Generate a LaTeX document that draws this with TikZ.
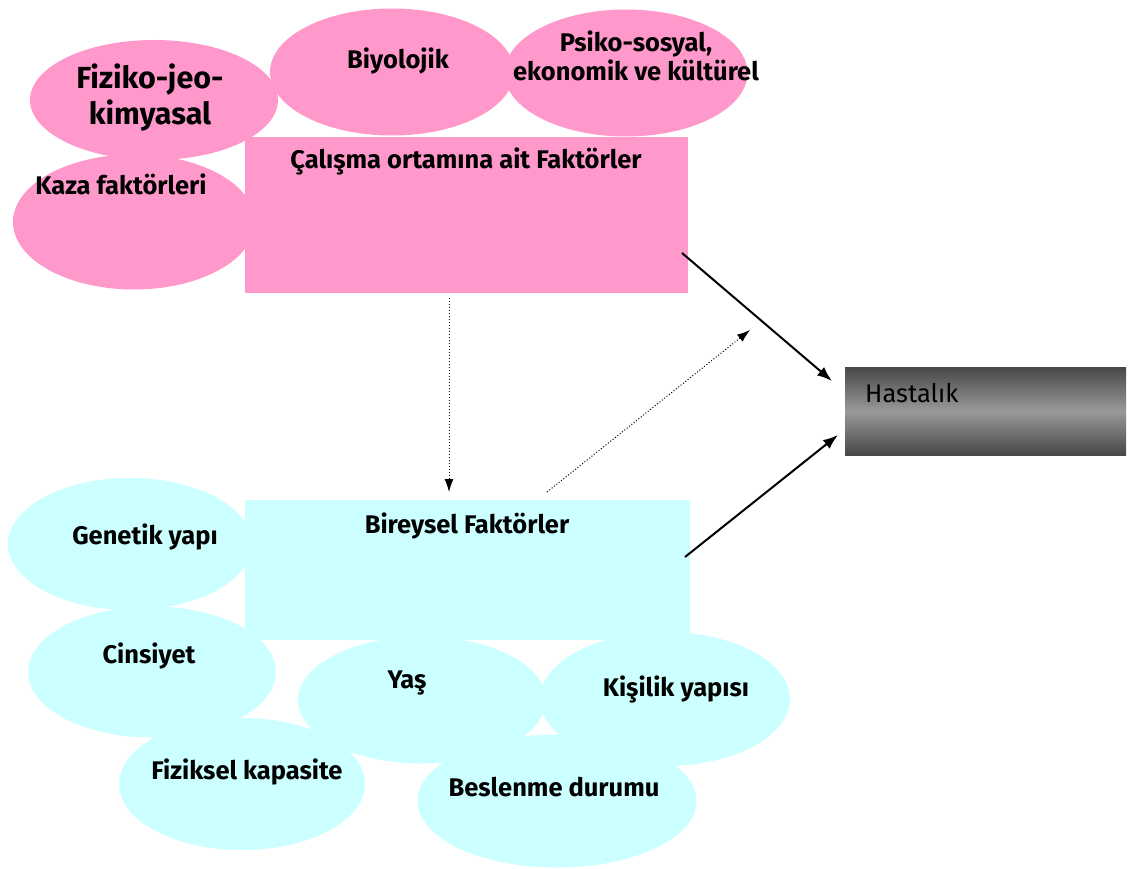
\documentclass[tikz,border=0pt]{standalone}
\usepackage{fontspec}
\setmainfont{Fira Sans}
\usetikzlibrary{shapes.geometric, arrows.meta}

\definecolor{pembe}{HTML}{FF99CC}
\definecolor{acikmavi}{HTML}{CCFFFF}

\begin{document}
\begin{tikzpicture}[x = 1pt, y = -1pt, > = {Latex[length=15pt, width=11pt]},
	pinkblob/.style = {ellipse, fill = pembe, inner sep = 0pt},
	cyanblob/.style = {ellipse, fill = acikmavi, inner sep = 0pt},
	lbl/.style = {font = \fontsize{25.5}{30}\selectfont\bfseries, align = center, inner sep = 0pt}]

	\useasboundingbox (0, 0) rectangle (1129, 869);

	% Work environment factors

	\node [pinkblob, minimum width = 248pt, minimum height = 120pt] (fiziko) at (154, 100) {};
	\node [pinkblob, minimum width = 244pt, minimum height = 127pt] (biyo) at (392, 72) {};
	\node [pinkblob, minimum width = 243pt, minimum height = 127pt] (psiko) at (626, 73) {};
	\node [pinkblob, minimum width = 242pt, minimum height = 135pt] (kaza) at (134, 222) {};
	\fill [pembe] (245, 137) rectangle (688, 293);

	\node [lbl, font = \fontsize{30.5}{36}\selectfont\bfseries] (fizikotext) at (150, 98) {Fiziko-jeo-\\kimyasal};
	\node [lbl] (biyotext) at (398, 61) {Biyolojik};
	\node [lbl, font = \fontsize{25.5}{29}\selectfont\bfseries] (psikotext) at (636, 56) {Psiko-sosyal,\\ekonomik ve kültürel};
	\node [lbl] (kazatext) at (121, 184) {Kaza faktörleri};
	\node [lbl] (ortam) at (466, 162) {Çalışma ortamına ait Faktörler};

	% Individual factors

	\node [cyanblob, minimum width = 244pt, minimum height = 132pt] (genetik) at (130, 544) {};
	\node [cyanblob, minimum width = 248pt, minimum height = 131pt] (cinsiyet) at (152, 672) {};
	\node [cyanblob, minimum width = 246pt, minimum height = 132pt] (fiziksel) at (242, 784) {};
	\node [cyanblob, minimum width = 248pt, minimum height = 127pt] (yas) at (422, 700) {};
	\node [cyanblob, minimum width = 250pt, minimum height = 134pt] (kisilik) at (665, 699) {};
	\node [cyanblob, minimum width = 279pt, minimum height = 133pt] (beslenme) at (557, 801) {};
	\fill [acikmavi] (245, 500) rectangle (690, 640);

	\node [lbl] (genetiktext) at (145, 537) {Genetik yapı};
	\node [lbl] (cinsiyettext) at (149, 656) {Cinsiyet};
	\node [lbl] (fizikseltext) at (247, 772) {Fiziksel kapasite};
	\node [lbl] (yastext) at (407, 683) {Yaş};
	\node [lbl] (kisiliktext) at (676, 689) {Kişilik yapısı};
	\node [lbl] (beslenmetext) at (554, 787) {Beslenme durumu};
	\node [lbl] (bireysel) at (467, 526) {Bireysel Faktörler};

	% The disease

	\node [minimum width = 281pt, minimum height = 88pt, inner sep = 0pt,
		top color = black!72, bottom color = black!72, middle color = black!40] (hastalik) at (985.5, 411) {};
	\node [lbl, font = \fontsize{25.5}{30}\selectfont, anchor = west] (hastaliktext) at (865, 393) {Hastalık};

	% Arrows

	\coordinate (ortamout) at (682, 253);
	\coordinate (bireyselout) at (685, 557);
	\coordinate (hastalikin1) at (832, 381);
	\coordinate (hastalikin2) at (838, 435);
	\coordinate (ortamdown) at (449, 298);
	\coordinate (bireyselin) at (449, 492);
	\coordinate (bireyselup) at (547, 492);
	\coordinate (ortamin) at (750, 330);

	\begin{scope}[->, line width = 2pt]
		\draw (ortamout) -- (hastalikin1);
		\draw (bireyselout) -- (hastalikin2);
	\end{scope}

	\begin{scope}[->, dotted, line width = 1pt, > = {Latex[length=13pt, width=9pt]}]
		\draw (ortamdown) -- (bireyselin);
		\draw (bireyselup) -- (ortamin);
	\end{scope}

\end{tikzpicture}
\end{document}
